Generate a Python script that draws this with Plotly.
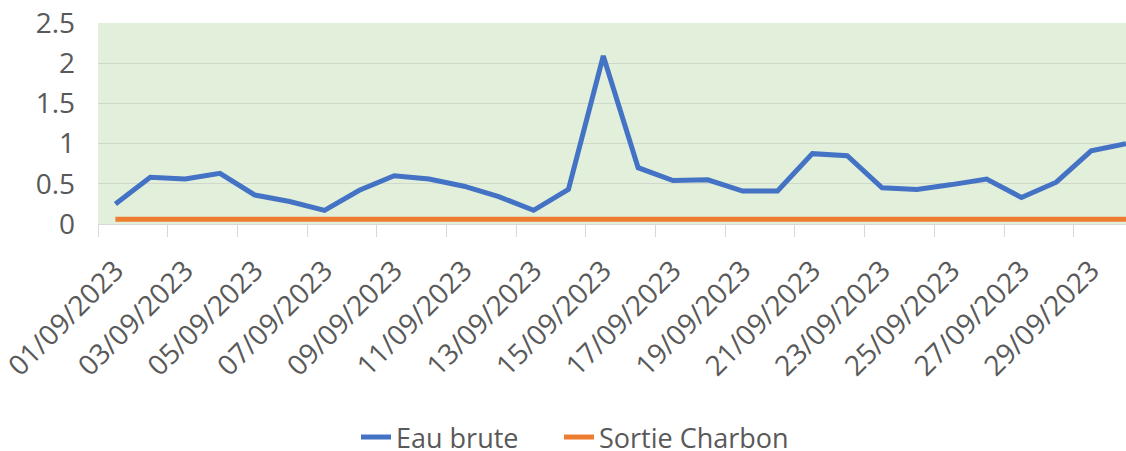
import plotly.graph_objects as go

dates = [f"{d:02d}/09/2023" for d in range(1, 31)]
eau_brute = [0.25, 0.58, 0.56, 0.63, 0.36, 0.28, 0.17, 0.42, 0.60, 0.56,
             0.47, 0.34, 0.17, 0.43, 2.09, 0.70, 0.54, 0.55, 0.41, 0.41,
             0.875, 0.85, 0.45, 0.43, 0.49, 0.56, 0.33, 0.52, 0.91, 1.00]
sortie_charbon = [0.06, 0.06, 0.06, 0.06, 0.06, 0.06, 0.06, 0.06, 0.06, 0.06,
                  0.06, 0.06, 0.06, 0.06, 0.065, 0.075, 0.075, 0.065, 0.06, 0.06,
                  0.06, 0.06, 0.06, 0.06, 0.06, 0.06, 0.06, 0.06, 0.06, 0.06]
y_ticks = [0, 0.5, 1, 1.5, 2, 2.5]
y_ticktext = ["0", "0.5", "1", "1.5", "2", "2.5"]

idx = list(range(len(dates)))
label_idx = idx[::2]

fig = go.Figure()
fig.add_trace(go.Scatter(x=idx, y=eau_brute, mode="lines", name="Eau brute",
                         line=dict(color="#4472C4", width=5), legend="legend"))
fig.add_trace(go.Scatter(x=idx, y=sortie_charbon, mode="lines", name="Sortie Charbon",
                         line=dict(color="#ED7D31", width=5), legend="legend2"))

legend_common = dict(orientation="h", xref="container", yref="container",
                     xanchor="left", y=0.03, yanchor="middle",
                     font=dict(size=27, color="#595959"), bgcolor="rgba(0,0,0,0)")

fig.update_layout(
    width=1126, height=451,
    margin=dict(l=98, r=0, t=23, b=227, autoexpand=False),
    paper_bgcolor="white",
    plot_bgcolor="#E2EFDA",
    font=dict(family="Open Sans", size=28, color="#595959"),
    showlegend=True,
    legend=dict(x=356 / 1126, **legend_common),
    legend2=dict(x=559 / 1126, **legend_common),
    xaxis=dict(
        range=[-0.5, 29], showgrid=False, zeroline=False,
        tickmode="array", tickvals=label_idx, ticktext=[dates[i] for i in label_idx],
        tickangle=-45, ticks="", ticklabelstandoff=18, ticklabeloverflow="allow",
        showline=True, linecolor="#D9D9D9", linewidth=1,
        minor=dict(ticks="outside", tickmode="linear", tick0=-0.5, dtick=2,
                   ticklen=12, tickcolor="#D9D9D9", tickwidth=1, showgrid=False),
    ),
    yaxis=dict(
        range=[0, 2.5], tickmode="array", tickvals=y_ticks, ticktext=y_ticktext,
        showgrid=True, gridcolor="#D0D7CB", gridwidth=1, zeroline=False,
        ticks="", ticklabelstandoff=22,
    ),
)

fig.write_html(
    "out.html",
    config={"displayModeBar": False},
    post_script="document.body.style.margin='0';document.body.style.overflow='hidden';",
)
